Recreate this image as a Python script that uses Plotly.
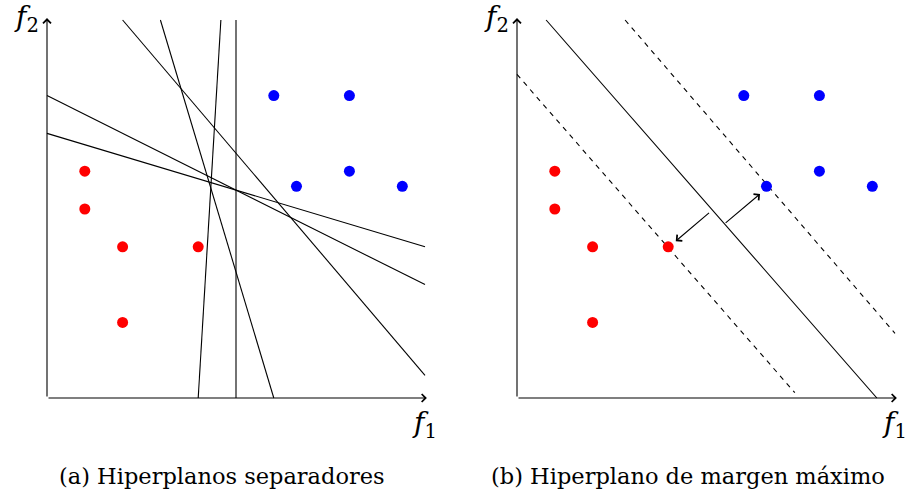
import plotly.graph_objects as go

# ---- data ----
red_x = [1, 1, 2, 4, 2]
red_y = [6, 5, 4, 4, 2]
blue_x = [6, 8, 6.6, 8, 9.4]
blue_y = [8, 8, 5.6, 6, 5.6]

# panel (a): separating hyperplanes (x0, y0, x1, y1)
hyperplanes_a = [
    (5.0, 0.0, 5.0, 10.0),
    (4.0, 0.0, 4.6, 10.0),
    (6.0, 0.0, 3.0, 10.0),
    (2.0, 10.0, 10.0, 0.6),
    (0.0, 8.0, 10.0, 3.0),
    (0.0, 7.0, 10.0, 4.0),
]
# panel (b): maximum-margin hyperplane and margins
hyperplane_b = (0.77, 10.0, 9.52, 0.0)
margins_b = [
    (0.0, 8.56, 7.35, 0.14),
    (2.86, 10.0, 10.0, 1.71),
]
# margin arrows (tail x, tail y, tip x, tip y)
margin_arrows = [
    (5.12, 4.93, 4.20, 4.15),
    (5.48, 4.60, 6.43, 5.40),
]
axis_len = 10
captions = ["(a) Hiperplanos separadores", "(b) Hiperplano de margen máximo"]

S = 37.8  # px per unit
W, H = 907, 494
ox_a, ox_b, oy = 47, 517, 398

fig = go.Figure()
FONT = "DejaVu Serif, Liberation Serif, serif"

def add_panel(xr, yr, xa, ya, lines, dashed=None, arrows=None, cap=None, capx=0.25):
    for (x0, y0, x1, y1) in lines:
        fig.add_trace(go.Scatter(x=[x0, x1], y=[y0, y1], mode="lines",
                                 line=dict(color="black", width=1.1),
                                 xaxis=xr, yaxis=yr, showlegend=False, hoverinfo="skip"))
    if dashed:
        for (x0, y0, x1, y1) in dashed:
            fig.add_trace(go.Scatter(x=[x0, x1], y=[y0, y1], mode="lines",
                                     line=dict(color="black", width=1.1, dash="5px,5px"),
                                     xaxis=xr, yaxis=yr, showlegend=False, hoverinfo="skip"))
    fig.add_trace(go.Scatter(x=red_x, y=red_y, mode="markers",
                             marker=dict(color="#ff0000", size=11, line=dict(width=0)),
                             xaxis=xr, yaxis=yr, showlegend=False))
    fig.add_trace(go.Scatter(x=blue_x, y=blue_y, mode="markers",
                             marker=dict(color="#0000ff", size=11, line=dict(width=0)),
                             xaxis=xr, yaxis=yr, showlegend=False))
    arr = dict(showarrow=True, arrowhead=4, arrowsize=1.4, arrowwidth=1.1,
               arrowcolor="black", text="", xref=xa, yref=ya, axref=xa, ayref=ya,
               standoff=0, startstandoff=0)
    fig.add_annotation(x=axis_len + 0.05, y=0, ax=0, ay=0, **arr)
    fig.add_annotation(x=0, y=axis_len + 0.05, ax=0, ay=0, **arr)
    if arrows:
        for (tx, ty, hx, hy) in arrows:
            fig.add_annotation(x=hx, y=hy, ax=tx, ay=ty, **arr)
    fig.add_annotation(x=-0.15, y=10.05, xref=xa, yref=ya, text="<i>f</i><sub>2</sub>",
                       showarrow=False, xanchor="right", yanchor="middle",
                       font=dict(family=FONT, size=28, color="black"))
    fig.add_annotation(x=9.98, y=-0.15, xref=xa, yref=ya, text="<i>f</i><sub>1</sub>",
                       showarrow=False, xanchor="center", yanchor="top",
                       font=dict(family=FONT, size=28, color="black"))
    fig.add_annotation(x=capx, y=(H - 476) / H, xref="paper", yref="paper", text=cap,
                       showarrow=False, xanchor="center", yanchor="middle",
                       font=dict(family=FONT, size=22.5, color="black"))

add_panel("x", "y", "x", "y", hyperplanes_a, cap=captions[0], capx=222 / W)
add_panel("x2", "y2", "x2", "y2", [hyperplane_b], dashed=margins_b, arrows=margin_arrows,
          cap=captions[1], capx=688 / W)

half = W / 2
yrange = [(oy - H) / S, oy / S]
fig.update_layout(
    width=W, height=H, margin=dict(l=0, r=0, t=0, b=0),
    paper_bgcolor="white", plot_bgcolor="white",
    xaxis=dict(domain=[0, 0.5], range=[-ox_a / S, (half - ox_a) / S], visible=False),
    xaxis2=dict(domain=[0.5, 1], range=[(half - ox_b) / S, (W - ox_b) / S], visible=False),
    yaxis=dict(domain=[0, 1], range=yrange, visible=False),
    yaxis2=dict(domain=[0, 1], range=yrange, visible=False, anchor="x2"),
)
fig.write_html("out.html")
